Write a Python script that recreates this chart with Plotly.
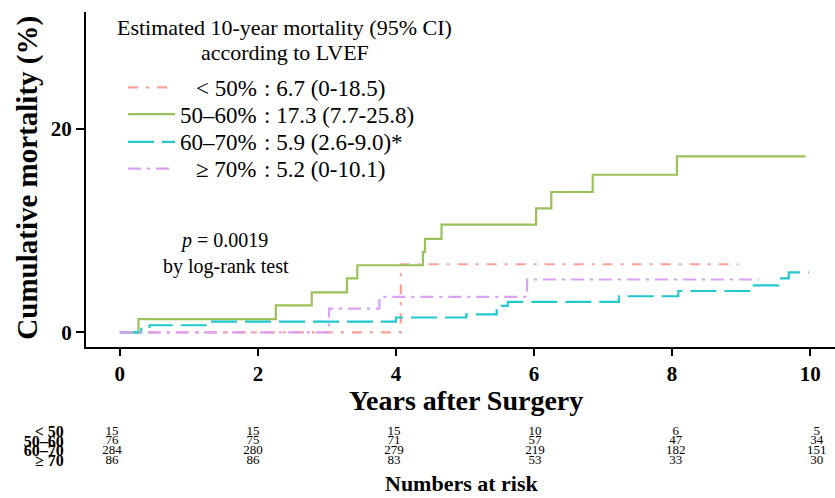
import plotly.graph_objects as go

# ---------------- data ----------------
groups = ["< 50%", "50–60%", "60–70%", "≥ 70%"]
risk_labels = ["< 50", "50–60", "60–70", "≥ 70"]
ci_text = [": 6.7 (0-18.5)", ": 17.3 (7.7-25.8)", ": 5.9 (2.6-9.0)*", ": 5.2 (0-10.1)"]

t_lt50 = [0, 4.07, 8.96]
m_lt50 = [0, 6.7, 6.7]

t_50_60 = [0, 0.27, 2.26, 2.78, 3.29, 3.44, 4.39, 4.42, 4.66, 6.03, 6.25, 6.85, 8.07, 9.93]
m_50_60 = [0, 1.3, 2.66, 3.93, 5.3, 6.6, 7.9, 9.2, 10.6, 12.2, 13.8, 15.5, 17.3, 17.3]

t_60_70 = [0, 0.31, 0.43, 1.30, 4.00, 5.02, 5.46, 5.53, 5.62, 7.23, 8.09, 9.16, 9.54, 9.69, 9.98]
m_60_70 = [0, 0.35, 0.70, 1.06, 1.46, 1.76, 2.2, 2.6, 3.0, 3.55, 4.07, 4.63, 5.3, 5.9, 5.9]

t_ge70 = [0, 3.03, 3.76, 5.90, 9.26]
m_ge70 = [0, 2.33, 3.49, 5.2, 5.2]

risk_times = [0, 2, 4, 6, 8, 10]
risk_lt50 = [15, 15, 15, 10, 6, 5]
risk_50_60 = [76, 75, 71, 57, 47, 34]
risk_60_70 = [284, 280, 279, 219, 182, 151]
risk_ge70 = [86, 86, 83, 53, 33, 30]

colors = ["#F9A097", "#99C25A", "#22C8CE", "#DCA0F2"]
dashes = ["10px,8px,3px,8px", "solid", "26px,8px", "13px,6px,3px,6px"]

times = [t_lt50, t_50_60, t_60_70, t_ge70]
vals = [m_lt50, m_50_60, m_60_70, m_ge70]
risks = [risk_lt50, risk_50_60, risk_60_70, risk_ge70]

FONT = "Liberation Serif"
W, H = 835, 498
ML, MT = 86, 12


def px(x):
    return (x - ML) / (W - ML)


def py(y):
    return (H - y) / (H - MT)


fig = go.Figure()

for i in range(4):
    fig.add_trace(go.Scatter(
        x=times[i], y=vals[i], mode="lines", line_shape="hv",
        line=dict(color=colors[i], width=2.2, dash=dashes[i]),
        showlegend=False, hoverinfo="skip"))

for i in range(4):
    fig.add_trace(go.Scatter(
        x=risk_times, y=[i] * len(risk_times), text=[str(v) for v in risks[i]],
        mode="text", textfont=dict(family=FONT, size=13, color="black"),
        xaxis="x2", yaxis="y2", showlegend=False, hoverinfo="skip"))

annotations = []
shapes = []

# legend block
annotations.append(dict(xref="paper", yref="paper", x=px(284), y=py(28),
                        text="Estimated 10-year mortality (95% CI)", showarrow=False,
                        font=dict(family=FONT, size=22, color="black"), xanchor="center", yanchor="middle"))
annotations.append(dict(xref="paper", yref="paper", x=px(285), y=py(53),
                        text="according to LVEF", showarrow=False,
                        font=dict(family=FONT, size=22, color="black"), xanchor="center", yanchor="middle"))
rows_y = [88, 115, 143, 170]
for i in range(4):
    annotations.append(dict(xref="paper", yref="paper", x=px(259), y=py(rows_y[i] + 1),
                            text=groups[i], showarrow=False,
                            font=dict(family=FONT, size=23, color="black"), xanchor="right", yanchor="middle"))
    annotations.append(dict(xref="paper", yref="paper", x=px(262), y=py(rows_y[i] + 1),
                            text=ci_text[i], showarrow=False,
                            font=dict(family=FONT, size=23, color="black"), xanchor="left", yanchor="middle"))
    shapes.append(dict(type="line", xref="paper", yref="paper",
                       x0=px(128), x1=px(175), y0=py(rows_y[i]), y1=py(rows_y[i]),
                       line=dict(color=colors[i], width=2.2, dash=dashes[i])))

# p-value
annotations.append(dict(xref="paper", yref="paper", x=px(224), y=py(242),
                        text="<i>p</i> = 0.0019", showarrow=False,
                        font=dict(family=FONT, size=20, color="black"), xanchor="center", yanchor="middle"))
annotations.append(dict(xref="paper", yref="paper", x=px(226), y=py(269),
                        text="by log-rank test", showarrow=False,
                        font=dict(family=FONT, size=20, color="black"), xanchor="center", yanchor="middle"))

# axis titles
annotations.append(dict(xref="paper", yref="paper", x=px(466), y=py(404),
                        text="<b>Years after Surgery</b>", showarrow=False,
                        font=dict(family=FONT, size=28, color="black"), xanchor="center", yanchor="middle"))
annotations.append(dict(xref="paper", yref="paper", x=px(28), y=py(179),
                        text="<b>Cumulative mortality (%)</b>", showarrow=False, textangle=-90,
                        font=dict(family=FONT, size=29, color="black"), xanchor="center", yanchor="middle"))
annotations.append(dict(xref="paper", yref="paper", x=px(462), y=py(487),
                        text="<b>Numbers at risk</b>", showarrow=False,
                        font=dict(family=FONT, size=22, color="black"), xanchor="center", yanchor="middle"))

main_bottom = py(350)

fig.update_layout(
    width=W, height=H,
    margin=dict(l=ML, r=0, t=MT, b=0),
    paper_bgcolor="white", plot_bgcolor="white",
    showlegend=False,
    annotations=annotations, shapes=shapes,
    xaxis=dict(domain=[0, 1], range=[-0.49, 10.36], tickvals=[0, 2, 4, 6, 8, 10],
               showline=True, linecolor="black", linewidth=2, ticks="outside", ticklen=7,
               tickwidth=2, tickcolor="black", showgrid=False, zeroline=False,
               tickfont=dict(family=FONT, size=21, color="black", weight="bold"),
               anchor="y"),
    yaxis=dict(domain=[main_bottom, 1], range=[-1.46, 31.5], tickvals=[0, 20],
               showline=True, linecolor="black", linewidth=2, ticks="outside", ticklen=8,
               tickwidth=2, tickcolor="black", showgrid=False, zeroline=False,
               tickfont=dict(family=FONT, size=21, color="black", weight="bold"),
               anchor="x"),
    xaxis2=dict(domain=[0, 1], range=[-0.369, 10.258], visible=False, anchor="y2"),
    yaxis2=dict(domain=[py(469), py(430)], range=[3.5, -0.5], tickvals=[0, 1, 2, 3],
                ticktext=risk_labels, showline=False, showgrid=False, zeroline=False,
                ticks="outside", ticklen=18, tickcolor="rgba(0,0,0,0)",
                tickfont=dict(family=FONT, size=16, color="black", weight="bold"),
                anchor="x2"),
)

fig.write_html("out.html")
